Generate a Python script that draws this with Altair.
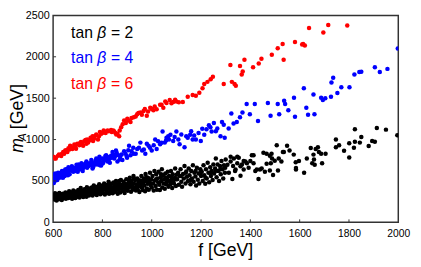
import altair as alt
import pandas as pd

# ---------------- data ----------------
black = [
    (602,300),(604,330),(606,275),(608,350),(610,310),(612,290),(614,265),(616,340),(618,320),(620,300),
    (623,280),(625,355),(627,315),(630,295),(632,335),(635,270),(637,310),(640,345),(642,290),(645,325),
    (647,305),(650,360),(652,285),(655,330),(657,310),(660,350),(662,295),(665,375),(667,320),(670,340),
    (672,300),(675,360),(677,285),(680,330),(682,385),(685,310),(687,350),(690,295),(692,370),(695,325),
    (697,345),(700,310),(702,390),(705,335),(707,300),(710,360),(712,415),(715,320),(717,345),(720,380),
    (722,305),(725,355),(727,400),(730,330),(732,370),(735,310),(737,425),(740,350),(742,385),(745,325),
    (747,365),(750,400),(752,340),(755,380),(757,420),(760,325),(762,360),(765,445),(767,395),(770,345),
    (772,410),(775,370),(777,330),(780,430),(782,385),(785,355),(787,460),(790,400),(792,340),(795,420),
    (797,375),(800,445),(802,355),(805,400),(807,470),(810,335),(812,425),(815,380),(817,450),(820,360),
    (822,410),(825,490),(827,345),(830,435),(832,390),(835,465),(837,370),(840,420),(842,350),(845,480),
    (847,400),(850,440),(852,370),(855,500),(857,415),(860,455),(862,345),(865,390),(867,470),(870,430),
    (872,360),(875,510),(877,405),(880,450),(882,380),(885,490),(887,425),(890,355),(892,465),(895,400),
    (897,520),(900,440),(903,380),(906,475),(908,420),(911,540),(913,455),(916,370),(918,500),(921,435),
    (923,395),(926,560),(928,470),(931,415),(933,510),(936,385),(938,450),(941,530),(943,400),(946,480),
    (948,440),(950,365),(953,505),(955,460),(958,560),(960,420),(963,390),(965,480),(968,530),(970,445),
    (973,375),(975,585),(978,500),(980,410),(983,465),(985,540),(988,395),(990,490),(993,600),(995,450),
    (998,520),(1000,420),(1003,560),(1006,470),(1008,385),(1011,620),(1013,505),(1016,440),(1018,580),
    (1021,395),(1023,530),(1026,480),(1028,610),(1031,455),(1033,390),(1036,545),(1038,500),(1041,640),
    (1043,420),(1046,565),(1048,470),(1050,520),(1053,405),(1055,590),(1058,540),(1060,480),(1063,520),
    (1065,610),(1068,430),(1070,560),(1073,500),(1075,460),(1078,620),(1080,545),(1083,415),(1085,580),
    (1088,505),(1090,470),(1093,535),(1095,650),(1098,440),(1100,575),(1103,520),(1107,600),(1110,455),
    (1113,560),(1117,640),(1120,490),(1123,430),(1127,585),(1130,530),(1133,680),(1137,470),(1140,615),
    (1143,550),(1147,500),(1150,650),(1153,570),(1157,460),(1160,620),(1163,530),(1167,690),(1170,490),
    (1173,600),(1177,555),(1180,445),(1183,660),(1187,515),(1190,590),(1193,470),(1197,640),(1200,560),
    (1203,610),(1207,500),(1210,690),(1213,570),(1217,465),(1220,640),(1223,530),(1227,720),(1230,600),
    (1233,485),(1237,665),(1240,560),(1243,620),(1247,510),(1250,700),(1253,590),(1257,650),(1260,770),
    (1263,545),(1267,700),(1270,620),(1273,500),(1277,680),(1280,580),(1283,740),(1287,640),(1290,530),
    (1293,690),(1297,600),(1300,760),
    (608,320),(618,285),(628,345),(638,300),(648,340),(658,300),(668,355),(678,315),(688,370),(698,330),
    (708,380),(718,335),(728,370),(738,335),(748,410),(758,360),(768,430),(778,385),(788,420),(798,360),
    (808,440),(818,400),(828,460),(838,395),(848,455),(858,420),(868,500),(878,430),(888,470),(898,415),
    (908,500),(918,460),(928,530),(938,420),(948,505),(958,470),(968,500),(978,545),(988,520),(998,470),
    (1018,520),(1038,580),(1058,460),(1078,500),(1098,520),(1118,560),(1138,600),(1158,510),(1178,620),
    (1198,600),(1218,540),(1238,600),(1258,620),(1278,640),(1298,660),
    (1307,696),(1313,600),(1320,734),(1320,791),(1327,524),(1330,680),(1333,772),(1338,620),(1340,638),
    (1347,714),(1347,791),(1353,780),(1360,677),(1360,562),(1366,700),(1373,638),(1373,742),(1380,734),
    (1386,714),(1393,660),(1400,740),(1406,811),(1413,714),(1413,811),(1420,620),(1426,638),(1433,524),
    (1439,638),(1446,650),(1453,841),(1459,611),
    (1466,708),(1466,830),(1479,627),(1479,803),(1483,714),(1486,830),(1488,772),(1492,573),(1499,745),
    (1507,932),(1512,627),(1515,772),(1526,734),(1532,849),(1536,849),(1549,925),(1559,868),(1576,818),
    (1584,726),(1585,657),(1585,638),(1597,742),(1618,600),(1629,772),(1645,898),(1651,714),(1656,818),
    (1658,760),(1661,696),(1665,887),(1674,906),(1678,849),(1687,830),(1691,714),(1705,830),(1747,1001),
    (1747,906),(1760,932),(1780,864),(1801,955),(1801,783),(1820,902),(1824,1124),(1824,975),(1844,963),
    (1850,1032),(1880,921),(1894,983),(1905,975),(1913,1139),(1950,1120),(1996,1052),
]

blue = [
    (603,474),(605,581),(612,543),(620,600),(629,562),(636,619),(642,581),(649,638),(656,600),(662,665),
    (669,627),(676,677),(682,612),(689,657),(695,696),(702,638),(709,677),(715,715),(722,657),(729,688),
    (735,734),(742,677),(748,715),(755,753),(762,665),(768,696),(775,772),(782,734),(788,791),(795,688),
    (802,715),(808,772),(815,810),(821,734),(828,765),(835,803),(841,849),(848,772),(855,868),(861,734),
    (872,791),(881,753),(894,830),(908,925),(914,810),(927,830),(941,887),(954,963),(961,868),(974,830),
    (987,925),(1000,868),(1014,1001),(1020,887),(1034,944),(1044,1097),(1053,963),(1060,1021),(1067,1040),
    (1076,1059),(1087,982),(1100,1097),(1113,944),(1133,906),(1146,1021),(1156,1059),(1166,1001),(1179,1001),
    (1199,982),(1213,1059),(1222,1124),(1232,1174),(1243,1097),(1252,1200),(1266,1135),(1279,1040),(1285,1212),
    (1296,1021),(1312,1135),(1323,1315),(1332,1193),(1345,1212),(1358,1269),(1368,1326),(1385,1430),(1398,1307),
    (1418,1430),(1431,1223),(1471,1441),(1482,1288),(1511,1430),(1517,1307),(1537,1468),(1541,1430),(1554,1353),
    (1577,1506),(1581,1277),(1617,1621),(1627,1384),(1634,1300),(1660,1307),(1656,1544),(1687,1506),(1694,1479),
    (1704,1499),(1727,1518),(1729,1690),(1736,1747),(1753,1563),(1769,1632),(1802,1632),(1822,1785),(1842,1816),
    (1850,1819),(1905,1873),(1925,1816),(1956,1854),(1998,2099),
    (601,520),(603,560),(606,500),(609,590),(611,530),(614,560),(617,510),(622,580),(625,540),(631,600),
    (634,545),(638,570),(644,610),(647,560),(651,590),(654,640),(659,600),(664,630),(667,580),(672,650),
    (679,620),(684,660),(687,640),(692,620),(698,660),(704,700),(707,660),(712,640),(718,690),(724,700),
    (727,670),(732,710),(738,660),(744,700),(750,690),(758,720),(764,700),(771,740),(779,700),(786,760),
    (792,730),(799,770),(806,740),(812,800),(818,760),(824,790),(838,780),(844,820),(852,800),(858,840),
    (865,810),(878,820),(888,860),(898,800),(905,870),(918,860),(925,900),(935,830),(948,900),(968,880),
    (980,950),(993,900),(1008,930),(1026,980),(1040,960),(1058,990),(1070,1000),(1093,1030),(1108,1000),
    (1120,1060),(1140,1040),(1160,1100),(1172,1050),(1190,1080),(1205,1130),(1238,1150),(1260,1100),(1292,1180),
    (608,505),(640,540),(660,570),(700,610),(720,620),(760,650),(790,690),(830,720),(870,760),(900,780),
]

red = [
    (607,772),(620,803),(636,830),(649,868),(662,894),(669,925),(678,887),(689,917),(702,944),(713,971),
    (722,925),(731,994),(742,963),(752,1021),(762,982),(771,1047),(782,1001),(795,1070),(808,1097),(821,1109),
    (835,1116),(848,1097),(861,1070),(868,1040),(888,1231),(901,1250),(914,1212),(927,1269),(941,1307),
    (954,1326),(967,1345),(980,1288),(994,1384),(1007,1353),(1020,1365),(1034,1422),(1047,1384),(1060,1441),
    (1073,1479),(1087,1453),(1100,1460),(1126,1453),(1146,1518),(1166,1537),(1179,1529),(1193,1567),
    (1206,1621),(1213,1670),(1226,1697),(1239,1728),(1248,1758),(1292,1670),(1319,1900),(1325,1697),
    (1336,1670),(1341,1651),(1358,1888),(1365,1785),(1369,1823),(1376,1965),(1411,1873),(1434,1919),
    (1445,1976),(1487,2026),(1511,2102),(1531,2156),(1535,1965),(1581,2179),(1610,2148),(1614,2156),
    (1621,2137),(1638,2347),(1696,2294),(1716,2385),(1793,2378),
    (604,790),(611,770),(624,820),(633,800),(641,850),(645,830),(653,870),(658,850),(666,880),(673,910),
    (681,900),(686,940),(693,890),(698,950),(706,930),(710,960),(718,940),(726,980),(735,950),(738,1000),
    (746,990),(756,1000),(760,1040),(766,1010),(775,1060),(786,1040),(790,1090),(799,1080),(805,1110),
    (813,1080),(826,1100),(838,1090),(844,1110),(853,1080),(856,1060),(895,1200),(905,1230),(918,1260),
    (935,1280),(946,1320),(960,1300),(972,1370),(985,1340),(1000,1370),(1012,1400),(1040,1420),(1055,1460),
    (1080,1440),(1095,1480),(1110,1450),(876,1150),(882,1185),(870,1110),
]

series_names = ["tan β = 2", "tan β = 4", "tan β = 6"]
tan_beta_values = ["= 2", "= 4", "= 6"]
colors = ["#000000", "#0000ff", "#ff0000"]
x_ticks = [600, 800, 1000, 1200, 1400, 1600, 1800, 2000]
y_ticks = [0, 500, 1000, 1500, 2000, 2500]

# ---------------- build table ----------------
rows = []
for name, pts in zip(series_names, [black, blue, red]):
    for f, m in pts:
        rows.append({"f": f, "mA": m, "series": name})
df = pd.DataFrame(rows)

TOP = 5
W, H = 352, 211
FONT = "Liberation Sans"

xscale = alt.Scale(domain=[600, 2000], nice=False, zero=False)
yscale = alt.Scale(domain=[0, 2500], nice=False, zero=False)

xaxis = alt.Axis(values=x_ticks, format="d", title=None, tickSize=0, domain=False, grid=False,
                 labelFontSize=10.5, labelFont=FONT, labelColor="#000", labelPadding=6,
                 labelFlush=False)
yaxis = alt.Axis(values=y_ticks, format="d", title=None, tickSize=0, domain=False, grid=False,
                 labelFontSize=11, labelFont=FONT, labelColor="#000", labelPadding=4,
                 labelFlush=False)

points = alt.Chart(df).mark_circle(size=21, opacity=1, clip=True).encode(
    x=alt.X("f:Q", scale=xscale, axis=xaxis),
    y=alt.Y("mA:Q", scale=yscale, axis=yaxis),
    color=alt.Color("series:N", scale=alt.Scale(domain=series_names, range=colors), legend=None),
)

# inward tick marks
xt = alt.Chart(pd.DataFrame({"f": x_ticks[1:-1]})).mark_rule(color="#333", strokeWidth=1).encode(
    x=alt.X("f:Q", scale=xscale, axis=xaxis), y=alt.value(H), y2=alt.value(H - 3))
yt = alt.Chart(pd.DataFrame({"mA": y_ticks[1:-1]})).mark_rule(color="#333", strokeWidth=1).encode(
    y=alt.Y("mA:Q", scale=yscale, axis=yaxis), x=alt.value(0), x2=alt.value(3))


def txt(s, x, y, size, color="#000", style="normal", angle=0, align="left"):
    return alt.Chart(pd.DataFrame({"t": [s]})).mark_text(
        font=FONT, fontSize=size, color=color, fontStyle=style, angle=angle,
        align=align, baseline="alphabetic").encode(
        x=alt.value(x), y=alt.value(y - TOP), text="t:N")


layers = [points, xt, yt]

# legend-like labels (y given relative to page top minus 8px margin)
for i, (val, col) in enumerate(zip(tan_beta_values, colors)):
    yb = 27.7 + 26 * i
    layers.append(txt("tan", 18.3, yb, 16, col))
    layers.append(txt("β", 45, yb, 16, col, style="italic"))
    layers.append(txt(val, 59, yb, 16, col))

# axis titles
layers.append(txt("f [GeV]", W / 2, 250, 18, align="center"))
layers.append(txt("m", -31, 145, 18, style="italic", angle=270))
layers.append(txt("A", -28, 133, 12, style="italic", angle=270))
layers.append(txt("[GeV]", -31, 121, 18, angle=270))

chart = alt.layer(*layers).properties(
    width=W, height=H,
    autosize=alt.AutoSizeParams(type="none"),
    padding={"left": 46, "top": TOP, "right": 15, "bottom": 43},
).configure_view(stroke="#333", strokeWidth=1.5)

chart.save("out.html", embed_options={"renderer": "svg", "actions": False})
